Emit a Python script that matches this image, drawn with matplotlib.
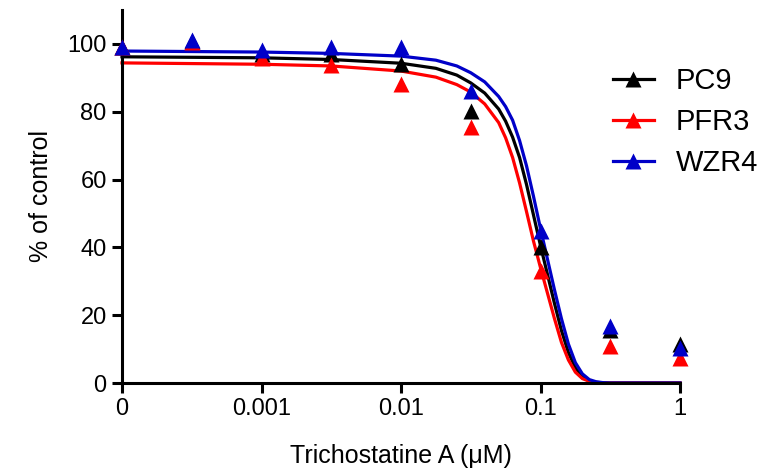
import numpy as np
import matplotlib
matplotlib.use('Agg')
import matplotlib.pyplot as plt

plt.rcParams['font.family'] = ['Liberation Sans', 'DejaVu Sans']

# doses in uM; the control (0) is drawn at 1e-4 like in the original
doses = [0, 0.000316, 0.001, 0.00316, 0.01, 0.0316, 0.1, 0.316, 1]
pc9 = [99, 101, 97, 96.9, 94, 80.3, 40, 15.6, 11.5]
pfr3 = [99, 100.7, 95.9, 93.8, 88.3, 75.4, 33.1, 11, 7.5]
wzr4 = [99.2, 101.3, 98.1, 99, 99, 86.2, 44.9, 16.9, 10.2]

# fitted curves (log10 of dose)
fit_logx = [-4, -3, -2.5, -2, -1.75, -1.6, -1.5, -1.4, -1.3, -1.25, -1.2, -1.15,
            -1.1, -1.05, -1.0, -0.95, -0.9, -0.85, -0.8, -0.75, -0.7, -0.65,
            -0.6, -0.55, -0.5, 0]
fit_pc9 = [96.2, 95.9, 95.4, 94.3, 92.8, 90.8, 88.5, 85.5, 80.8, 77.2, 72.5, 66.5,
           58.5, 49.5, 40.5, 32, 23.5, 15.5, 9, 4.5, 1.8, 0.6, 0.2, 0.05, 0, 0]
fit_pfr3 = [94.4, 94.0, 93.5, 92.0, 90.2, 88, 85.8, 82.3, 76.8, 72.3, 66.5, 59,
            50.5, 41.8, 34, 26.5, 19, 12, 6.8, 3.2, 1.3, 0.5, 0.15, 0, 0, 0]
fit_wzr4 = [97.9, 97.6, 97.2, 96.4, 95.2, 93.5, 91.5, 88.8, 84.5, 81.5, 77.5, 71.5,
            64, 55, 45.5, 36.5, 27.5, 19, 11.5, 6, 2.7, 1, 0.35, 0.1, 0, 0]

labels = ['PC9', 'PFR3', 'WZR4']
colors = ['black', '#ff0000', '#0000c8']

fig = plt.figure(figsize=(7.68, 4.72), dpi=100)
ax = fig.add_axes([122 / 768, 89 / 472, 558 / 768, 373 / 472])

xd = np.array(doses)
xd = np.where(xd == 0, 1e-4, xd)
fx = 10 ** np.array(fit_logx)

for pts, fit, lab, c in zip([pc9, pfr3, wzr4], [fit_pc9, fit_pfr3, fit_wzr4], labels, colors):
    ax.plot(fx, fit, '-', color=c, lw=2.3, clip_on=False, solid_joinstyle='round')
    ax.plot(xd, pts, '^', color=c, ms=11, mec='none', clip_on=False, zorder=3)
    ax.plot([], [], '-^', color=c, lw=2.3, ms=11, mec='none', label=lab)

ax.set_xscale('log')
ax.set_xlim(1e-4, 1)
ax.set_ylim(0, 110)
ax.set_xticks([1e-4, 1e-3, 1e-2, 1e-1, 1])
ax.set_xticklabels(['0', '0.001', '0.01', '0.1', '1'])
ax.xaxis.set_minor_locator(matplotlib.ticker.NullLocator())
ax.set_yticks([0, 20, 40, 60, 80, 100])

for s in ['top', 'right']:
    ax.spines[s].set_visible(False)
for s in ['left', 'bottom']:
    ax.spines[s].set_linewidth(2.2)
ax.tick_params(axis='both', width=2.2, length=7, labelsize=17, pad=4)

ax.set_xlabel('Trichostatine A (\u03bcM)', fontsize=18, labelpad=17)
ax.set_ylabel('% of control', fontsize=18, labelpad=10)

ax.legend(loc='center left', bbox_to_anchor=(613 / 768, 1 - 122 / 472),
          bbox_transform=fig.transFigure, frameon=False, fontsize=21,
          handlelength=1.4, handletextpad=0.75, labelspacing=0.45,
          borderpad=0, borderaxespad=0)

fig.savefig('out.png', dpi=100)
